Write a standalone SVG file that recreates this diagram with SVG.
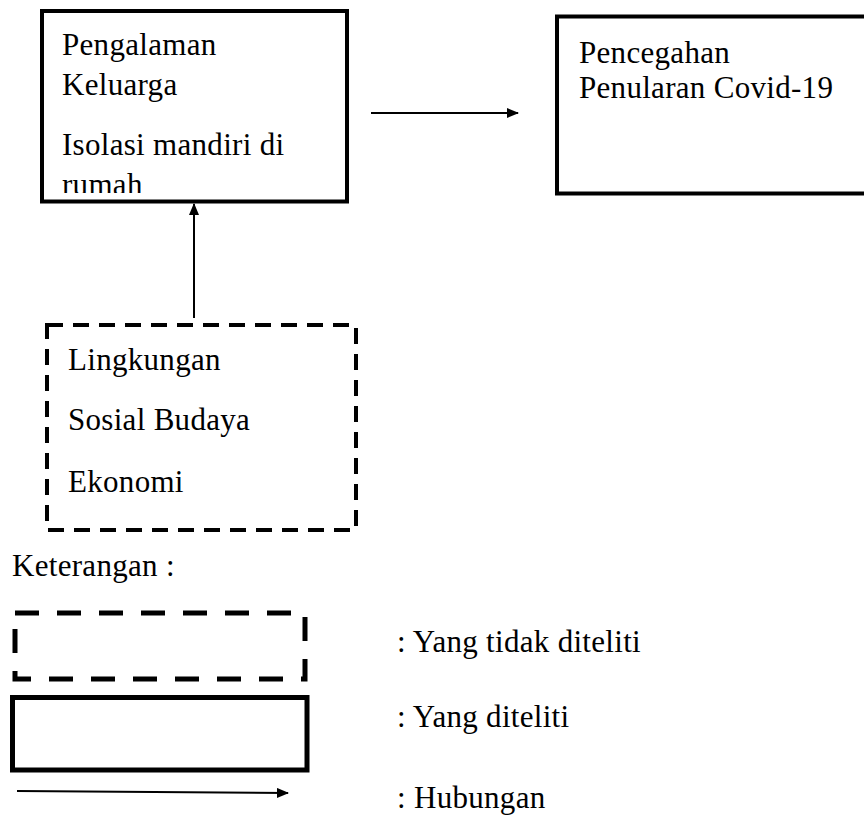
<svg xmlns="http://www.w3.org/2000/svg" width="864" height="815" viewBox="0 0 864 815">
<defs>
<style>
text{font-family:"Liberation Serif","Times New Roman",serif;font-size:31px;letter-spacing:0.3px;fill:#000}
.solid{fill:#fff;stroke:#000;stroke-width:4}
.dash{fill:none;stroke:#000;stroke-width:4;stroke-dasharray:16 10}
.conn{stroke:#000;stroke-width:2;fill:none}
</style>
<marker id="ah" markerWidth="12" markerHeight="10" refX="11" refY="5" orient="auto" markerUnits="userSpaceOnUse">
<path d="M0,0 L12,5 L0,10 Z" fill="#000"/>
</marker>
<clipPath id="c1"><rect x="44" y="13" width="301" height="180"/></clipPath>
</defs>
<rect width="864" height="815" fill="#fff"/>
<g id="pengalaman">
<rect class="solid" x="42" y="11" width="305" height="190.5"/>
<g clip-path="url(#c1)">
<text x="62" y="55">Pengalaman</text>
<text x="62" y="95">Keluarga</text>
<text x="62" y="155">Isolasi mandiri di</text>
<text x="62" y="195">rumah</text>
</g>
</g>
<g id="pencegahan">
<rect class="solid" x="557" y="16.5" width="320" height="177"/>
<text x="579" y="63">Pencegahan</text>
<text x="579" y="98">Penularan Covid-19</text>
</g>
<g id="faktor">
<rect class="dash" x="47" y="325" width="309" height="205"/>
<text x="68" y="370">Lingkungan</text>
<text x="68" y="430">Sosial Budaya</text>
<text x="68" y="492">Ekonomi</text>
</g>
<g id="connectors">
<line class="conn" x1="371" y1="113" x2="518" y2="113" marker-end="url(#ah)"/>
<line class="conn" x1="194" y1="318" x2="194" y2="204" marker-end="url(#ah)"/>
</g>
<g id="legend">
<text x="12" y="576">Keterangan :</text>
<rect x="15" y="613" width="290" height="66" fill="none" stroke="#000" stroke-width="5" stroke-dasharray="24 18"/>
<rect x="12.5" y="697.5" width="294.5" height="72.5" fill="none" stroke="#000" stroke-width="5"/>
<line class="conn" x1="17" y1="791" x2="288" y2="793" marker-end="url(#ah)"/>
<text x="397" y="652">: Yang tidak diteliti</text>
<text x="397" y="727">: Yang diteliti</text>
<text x="397" y="808">: Hubungan</text>
</g>
</svg>
